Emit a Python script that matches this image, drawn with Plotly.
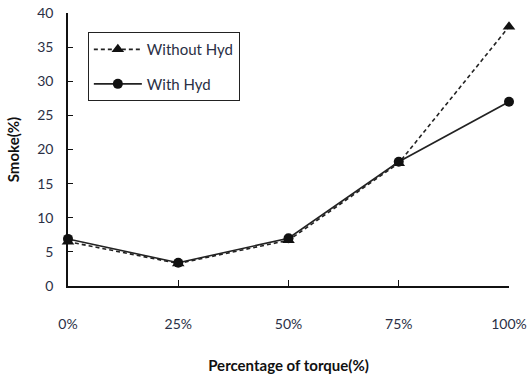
import plotly.graph_objects as go

# Engine load points and smoke opacity readings
torque_pct = [0, 25, 50, 75, 100]
torque_labels = ["0%", "25%", "50%", "75%", "100%"]
smoke_without_hyd = [6.5, 3.3, 6.7, 18.0, 38.0]
smoke_with_hyd = [6.9, 3.4, 7.0, 18.2, 27.0]
y_ticks = [0, 5, 10, 15, 20, 25, 30, 35, 40]

fig = go.Figure()

fig.add_trace(go.Scatter(
    x=torque_pct, y=smoke_without_hyd, name="Without Hyd",
    mode="lines+markers", cliponaxis=False, legendgroup="a",
    line=dict(color="#222222", width=1.6, dash="4px,3px"),
    marker=dict(symbol="triangle-up", size=11, color="#111111"),
))
fig.add_trace(go.Scatter(
    x=torque_pct, y=smoke_with_hyd, name="With Hyd",
    mode="lines+markers", cliponaxis=False, legendgroup="b",
    line=dict(color="#222222", width=1.6),
    marker=dict(symbol="circle", size=10, color="#111111"),
))

tick_font = dict(family="Lato, Open Sans, sans-serif", size=14, color="#2a2f45")

fig.update_layout(
    width=530, height=377,
    margin=dict(l=68, r=21, t=13, b=91),
    paper_bgcolor="white", plot_bgcolor="white",
    showlegend=True,
    legend=dict(
        x=0.045, y=0.93, xanchor="left", yanchor="top",
        bordercolor="#222222", borderwidth=1, bgcolor="white",
        font=dict(family="Lato, Open Sans, sans-serif", size=15, color="#2a2f45"),
        tracegroupgap=12, traceorder="grouped",
        itemwidth=48, entrywidth=172, entrywidthmode="pixels",
    ),
    xaxis=dict(
        range=[0, 100], tickvals=torque_pct, ticktext=torque_labels,
        showline=True, linecolor="#111111", linewidth=1.5,
        ticks="inside", ticklen=6, tickcolor="#111111",
        showgrid=False, zeroline=False, tickfont=tick_font,
        ticklabelstandoff=24, automargin=False,
        title=dict(text="<b>Percentage of torque(%)</b>", standoff=30,
                   font=dict(family="Lato, Open Sans, sans-serif", size=15, color="#111111")),
    ),
    yaxis=dict(
        range=[0, 40], tickvals=y_ticks,
        showline=True, linecolor="#111111", linewidth=1.5,
        ticks="inside", ticklen=5, tickcolor="#111111",
        showgrid=False, zeroline=False, tickfont=tick_font,
        ticklabelstandoff=10, automargin=False,
        title=dict(text="<b>Smoke(%)</b>", standoff=14,
                   font=dict(family="Lato, Open Sans, sans-serif", size=15, color="#111111")),
    ),
)

fig.write_html("out.html")
